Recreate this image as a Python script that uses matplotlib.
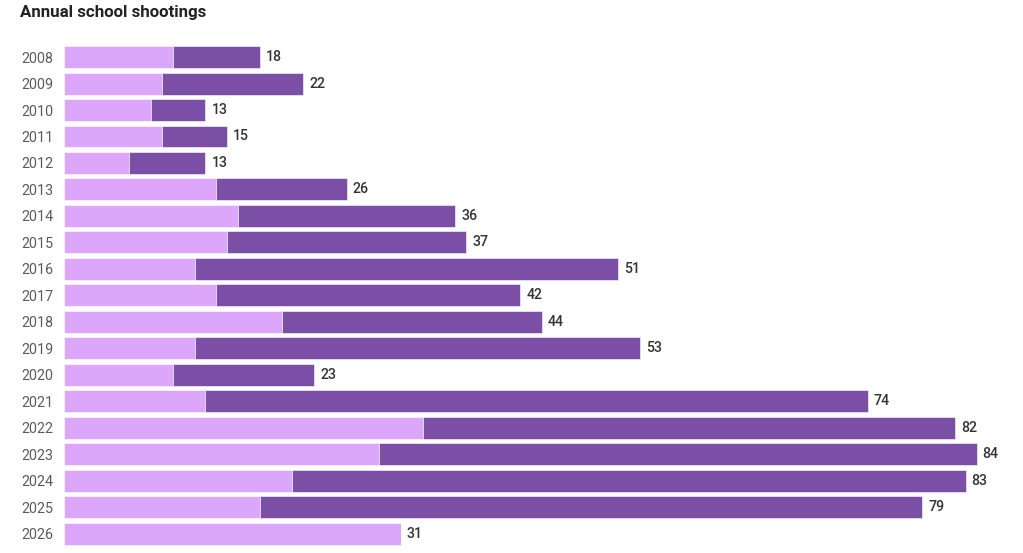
import matplotlib.pyplot as plt

# Data
years = ['2008', '2009', '2010', '2011', '2012', '2013', '2014', '2015', '2016', '2017',
         '2018', '2019', '2020', '2021', '2022', '2023', '2024', '2025', '2026']
totals = [18, 22, 13, 15, 13, 26, 36, 37, 51, 42, 44, 53, 23, 74, 82, 84, 83, 79, 31]
first_part = [10, 9, 8, 9, 6, 14, 16, 15, 12, 14, 20, 12, 10, 13, 33, 29, 21, 18, 31]
second_part = [t - f for t, f in zip(totals, first_part)]

light = '#dca6fb'
dark = '#7b4fa5'

plt.rcParams['font.family'] = ['Roboto', 'DejaVu Sans']

W, H = 1023, 553
fig = plt.figure(figsize=(W / 100, H / 100), dpi=100)

# axes placement in pixels
px_left, px_right = 64.3, 1013
px_top, px_bottom = 43.8, 547
scale = 10.86  # px per unit
ax = fig.add_axes([px_left / W, 1 - px_bottom / H,
                   (px_right - px_left) / W, (px_bottom - px_top) / H])

ypos = list(range(len(years)))
ax.barh(ypos, first_part, height=0.83, color=light, edgecolor='white', linewidth=0.4)
ax.barh(ypos, second_part, left=first_part, height=0.83, color=dark,
        edgecolor='white', linewidth=0.4)

for y, t in zip(ypos, totals):
    ax.text(t + 0.55, y, str(t), va='center', ha='left', fontsize=10.2,
            color='#333333', fontweight='medium')

ax.set_xlim(0, (px_right - px_left) / scale)
ax.set_ylim(len(years) - 0.5, -0.5)
ax.set_yticks(ypos)
ax.set_yticklabels(years, fontsize=10.3, color='#5a5a5a')
ax.tick_params(axis='y', length=0, pad=8)
ax.set_xticks([])
for s in ax.spines.values():
    s.set_visible(False)

fig.text(20 / W, 1 - 13 / H, 'Annual school shootings', fontsize=12.2,
         fontweight='semibold', color='#222222', va='center', ha='left')

fig.savefig('out.png', dpi=100, facecolor='white')
